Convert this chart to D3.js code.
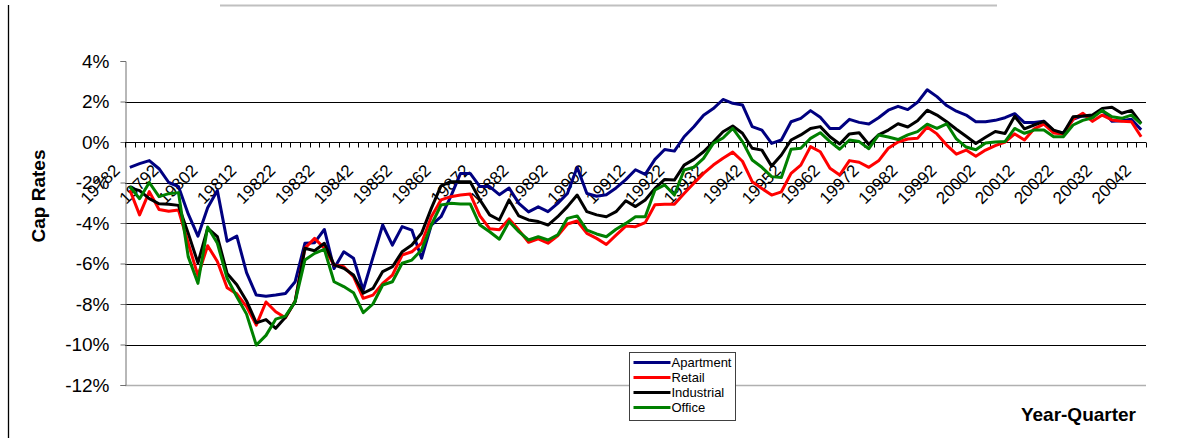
<!DOCTYPE html>
<html>
<head>
<meta charset="utf-8">
<script src="https://cdn.jsdelivr.net/npm/d3@7"></script>
<style>
  body { margin: 0; background: #fff; }
  svg { display: block; }
</style>
</head>
<body>
<svg id="chart" width="1190" height="438"></svg>
<script>
// Quarterly categories, label format YYYYQ
const categories = [
  "19782","19783","19784",
  "19791","19792","19793","19794",
  "19801","19802","19803","19804",
  "19811","19812","19813","19814",
  "19821","19822","19823","19824",
  "19831","19832","19833","19834",
  "19841","19842","19843","19844",
  "19851","19852","19853","19854",
  "19861","19862","19863","19864",
  "19871","19872","19873","19874",
  "19881","19882","19883","19884",
  "19891","19892","19893","19894",
  "19901","19902","19903","19904",
  "19911","19912","19913","19914",
  "19921","19922","19923","19924",
  "19931","19932","19933","19934",
  "19941","19942","19943","19944",
  "19951","19952","19953","19954",
  "19961","19962","19963","19964",
  "19971","19972","19973","19974",
  "19981","19982","19983","19984",
  "19991","19992","19993","19994",
  "20001","20002","20003","20004",
  "20011","20012","20013","20014",
  "20021","20022","20023","20024",
  "20031","20032","20033","20034",
  "20041","20042"
];

// Labelled categories on the x axis
const tickLabels = [
  "19782","19792","19802","19812","19822","19832","19842","19852","19862",
  "19872","19882","19892","19902","19912","19922","19932","19942","19952",
  "19962","19972","19982","19992","20002","20012","20022","20032","20042"
];

const yTicks = [-12, -10, -8, -6, -4, -2, 0, 2, 4];

// Cap rate series, percent
const apartment = [
  -1.25,-1.07,-0.92,-1.32,-2.0,-2.2,-3.55,-4.65,-3.25,-2.4,
  -4.9,-4.65,-6.45,-7.56,-7.62,-7.56,-7.48,-6.9,-5.0,-4.97,
  -4.32,-6.25,-5.42,-5.74,-7.31,-5.7,-4.1,-5.09,-4.18,-4.35,
  -5.74,-4.1,-3.69,-2.7,-1.55,-1.55,-2.2,-2.2,-2.6,-2.27,
  -3.03,-3.45,-3.2,-3.44,-3.03,-2.54,-1.25,-2.54,-2.68,-2.6,
  -2.27,-1.86,-1.37,-1.6,-0.86,-0.37,-0.45,0.26,0.75,1.32,
  1.65,2.1,1.91,1.83,0.76,0.59,-0.07,0.1,1.0,1.17,
  1.55,1.22,0.67,0.67,1.12,0.97,0.89,1.2,1.57,1.76,
  1.6,1.96,2.58,2.24,1.8,1.52,1.33,1.0,1.0,1.07,
  1.2,1.4,0.96,0.96,1.02,0.55,0.45,1.12,1.3,1.25,
  1.58,1.02,1.05,1.12,0.6
];

const retail = [
  -2.37,-3.6,-2.45,-3.33,-3.42,-3.36,-5.0,-6.6,-5.12,-5.9,
  -7.2,-7.5,-8.13,-9.04,-7.9,-8.38,-8.68,-7.85,-5.25,-4.76,
  -5.25,-6.07,-6.16,-6.65,-7.72,-7.56,-6.98,-6.57,-5.58,-5.42,
  -5.0,-3.69,-2.86,-2.7,-2.62,-2.57,-3.65,-4.28,-4.33,-3.8,
  -4.35,-4.95,-4.78,-5.0,-4.63,-4.05,-3.9,-4.51,-4.76,-5.06,
  -4.6,-4.15,-4.18,-3.98,-3.1,-3.07,-3.07,-2.54,-2.04,-1.55,
  -1.14,-0.8,-0.5,-0.95,-1.96,-2.3,-2.62,-2.46,-1.55,-1.14,
  -0.23,-0.48,-1.3,-1.63,-0.92,-1.0,-1.25,-0.93,-0.31,0.0,
  0.15,0.18,0.74,0.4,-0.15,-0.6,-0.4,-0.7,-0.4,-0.18,
  0.0,0.4,0.1,0.65,0.88,0.45,0.4,1.12,1.42,1.02,
  1.33,1.09,1.02,1.0,0.26
];

const industrial = [
  -2.25,-2.4,-2.8,-3.05,-3.07,-3.13,-4.5,-5.97,-4.26,-4.67,
  -6.49,-7.05,-7.85,-8.93,-8.77,-9.2,-8.65,-7.88,-5.25,-5.37,
  -5.0,-6.07,-6.24,-6.57,-7.47,-7.23,-6.4,-6.16,-5.42,-5.09,
  -4.51,-3.28,-2.17,-1.96,-1.96,-1.96,-2.86,-3.6,-3.85,-2.86,
  -3.65,-3.85,-3.93,-4.1,-3.69,-3.19,-2.62,-3.44,-3.6,-3.69,
  -3.44,-2.9,-3.19,-2.86,-2.29,-1.85,-1.88,-1.14,-0.86,-0.48,
  0.0,0.51,0.79,0.43,-0.31,-0.4,-1.19,-0.64,0.1,0.35,
  0.67,0.76,0.26,-0.1,0.4,0.46,-0.12,0.35,0.59,0.9,
  0.74,1.05,1.57,1.33,1.0,0.63,0.28,-0.07,0.23,0.52,
  0.42,1.27,0.65,0.84,1.02,0.59,0.43,1.25,1.28,1.33,
  1.66,1.72,1.42,1.56,0.92
];

const office = [
  -2.2,-2.8,-2.0,-2.7,-2.55,-2.5,-5.66,-6.98,-4.2,-5.0,
  -6.73,-7.64,-8.5,-10.03,-9.55,-8.75,-8.6,-7.88,-5.83,-5.5,
  -5.3,-6.9,-7.14,-7.44,-8.43,-8.0,-7.06,-6.9,-5.99,-5.83,
  -5.33,-4.1,-3.11,-3.03,-3.06,-3.06,-4.1,-4.43,-4.8,-3.93,
  -4.43,-4.84,-4.68,-4.84,-4.59,-3.77,-3.65,-4.35,-4.54,-4.68,
  -4.31,-4.02,-3.69,-3.69,-2.37,-2.12,-2.62,-1.38,-1.25,-0.81,
  -0.07,0.2,0.67,0.02,-0.89,-1.25,-1.71,-1.75,-0.36,-0.31,
  0.18,0.46,0.02,-0.36,0.1,0.02,-0.33,0.35,0.25,0.12,
  0.35,0.51,0.88,0.67,0.9,0.15,-0.25,-0.38,-0.05,0.0,
  0.02,0.67,0.43,0.59,0.59,0.26,0.26,0.84,1.07,1.2,
  1.56,1.25,1.17,1.33,0.89
];

const seriesNames = ["Apartment", "Retail", "Industrial", "Office"];
const seriesColors = ["#000080", "#ff0000", "#000000", "#008000"];
const seriesValues = [apartment, retail, industrial, office];

const FONT = "'Liberation Sans', Arial, Helvetica, sans-serif";
const svg = d3.select("#chart");

const plot = { left: 125, right: 1146, top: 61, bottom: 385 };

const x = d3.scalePoint()
  .domain(categories)
  .range([plot.left, plot.right])
  .padding(0.5);
const step = x.step();

const y = d3.scaleLinear()
  .domain([-12, 4])
  .range([plot.bottom, plot.top]);

// Outer frame pieces
svg.append("line")
  .attr("x1", 8.5).attr("x2", 8.5).attr("y1", 5).attr("y2", 438)
  .attr("stroke", "#000").attr("stroke-width", 1.3);
svg.append("line")
  .attr("x1", 220).attr("x2", 997).attr("y1", 5.5).attr("y2", 5.5)
  .attr("stroke", "#c0c0c0").attr("stroke-width", 2);

// Horizontal gridlines
svg.append("g")
  .selectAll("line")
  .data(yTicks.filter(v => v > -12 && v < 4 && v !== 0))
  .join("line")
  .attr("x1", plot.left).attr("x2", plot.right)
  .attr("y1", d => Math.round(y(d)) + 0.5)
  .attr("y2", d => Math.round(y(d)) + 0.5)
  .attr("stroke", "#000").attr("stroke-width", 1);

// Plot area bottom edge
svg.append("line")
  .attr("x1", plot.left).attr("x2", plot.right)
  .attr("y1", Math.round(y(-12)) + 0.5).attr("y2", Math.round(y(-12)) + 0.5)
  .attr("stroke", "#b0b0b0").attr("stroke-width", 1.5);

// Y axis
const yAxis = svg.append("g")
  .attr("transform", `translate(${plot.left + 0.5},0)`)
  .call(d3.axisLeft(y).tickValues(yTicks).tickFormat(d => d + "%").tickSize(5).tickPadding(11));
yAxis.select(".domain").attr("stroke", "#707070");
yAxis.selectAll(".tick line").attr("stroke", "#707070");
yAxis.selectAll(".tick text")
  .attr("font-family", FONT).attr("font-size", 19).attr("fill", "#000");

// X axis along 0%
const y0 = Math.round(y(0)) + 0.5;
svg.append("line")
  .attr("x1", plot.left).attr("x2", plot.right)
  .attr("y1", y0).attr("y2", y0)
  .attr("stroke", "#000").attr("stroke-width", 1);

const boundaries = categories.map(c => x(c) - step / 2)
  .concat([x(categories[categories.length - 1]) + step / 2]);
svg.append("g")
  .selectAll("line")
  .data(boundaries)
  .join("line")
  .attr("x1", d => Math.round(d) + 0.5).attr("x2", d => Math.round(d) + 0.5)
  .attr("y1", y0).attr("y2", y0 + 5)
  .attr("stroke", "#000").attr("stroke-width", 1);

svg.append("g")
  .selectAll("text")
  .data(tickLabels)
  .join("text")
  .attr("transform", d => `translate(${x(d) - 9},${y0 + 29}) rotate(-45)`)
  .attr("text-anchor", "end")
  .attr("font-family", FONT).attr("font-size", 17).attr("fill", "#000")
  .text(d => d);

// Series lines
const line = d3.line()
  .x((d, i) => x(categories[i]))
  .y(d => y(d));

svg.append("g")
  .selectAll("path")
  .data(seriesValues)
  .join("path")
  .attr("d", d => line(d))
  .attr("fill", "none")
  .attr("stroke", (d, i) => seriesColors[i])
  .attr("stroke-width", 3)
  .attr("stroke-linejoin", "round")
  .attr("stroke-linecap", "butt");

// Axis titles
svg.append("text")
  .attr("transform", "translate(45,196) rotate(-90)")
  .attr("text-anchor", "middle")
  .attr("font-family", FONT).attr("font-size", 19).attr("font-weight", "bold")
  .text("Cap Rates");

svg.append("text")
  .attr("x", 1136).attr("y", 421)
  .attr("text-anchor", "end")
  .attr("font-family", FONT).attr("font-size", 19).attr("font-weight", "bold")
  .text("Year-Quarter");

// Legend
const legend = svg.append("g").attr("transform", "translate(629.5,352.5)");
legend.append("rect")
  .attr("width", 106).attr("height", 68)
  .attr("fill", "#fff").attr("stroke", "#404040").attr("stroke-width", 1);
const rows = legend.selectAll("g.row")
  .data(seriesNames)
  .join("g")
  .attr("class", "row")
  .attr("transform", (d, i) => `translate(0,${10 + i * 15})`);
rows.append("line")
  .attr("x1", 4).attr("x2", 41).attr("y1", 0).attr("y2", 0)
  .attr("stroke", (d, i) => seriesColors[i]).attr("stroke-width", 3);
rows.append("text")
  .attr("x", 42).attr("y", 4.5)
  .attr("font-family", FONT).attr("font-size", 13).attr("fill", "#000")
  .text(d => d);
</script>
</body>
</html>
